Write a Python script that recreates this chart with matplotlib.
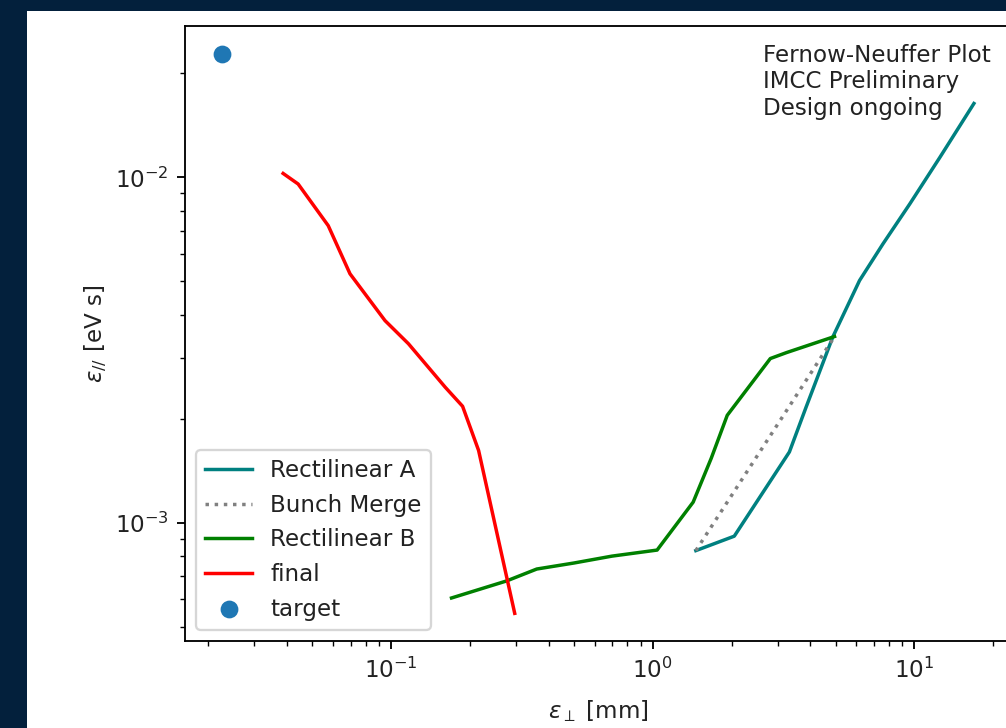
import numpy as np
import matplotlib
matplotlib.use("Agg")
import matplotlib.pyplot as plt
from matplotlib.patches import Rectangle

# emittances: transverse [mm], longitudinal [eV s]
rect_a_x = [1.461, 2.049, 3.328, 3.857, 4.877, 6.17, 7.58, 9.6, 12.5, 16.88]
rect_a_y = [0.000831, 0.000915, 0.001604, 0.002165, 0.003454, 0.00503, 0.00642, 0.00838, 0.01142, 0.01637]

rect_b_x = [0.1702, 0.2765, 0.3603, 0.4994, 0.6983, 1.039, 1.427, 1.673, 1.926, 2.814, 3.241, 4.951]
rect_b_y = [0.000606, 0.000679, 0.000735, 0.000765, 0.000801, 0.000834, 0.001148, 0.001538, 0.002048, 0.00299, 0.00311, 0.003463]

merge_x = [1.461, 4.951]
merge_y = [0.000831, 0.003463]

final_x = [0.03867, 0.04414, 0.05752, 0.06966, 0.0948, 0.1165, 0.161, 0.1876, 0.216, 0.2968]
final_y = [0.01027, 0.00957, 0.00725, 0.00526, 0.00385, 0.0033, 0.00247, 0.002175, 0.00162, 0.000547]

target_x = [0.02264]
target_y = [0.02273]

note = "Fernow-Neuffer Plot\nIMCC Preliminary\nDesign ongoing"

W, H, DPI = 1006, 728, 166
navy = "#03203c"

plt.rcParams["text.color"] = "#222222"
plt.rcParams["axes.labelcolor"] = "#222222"
plt.rcParams["xtick.labelcolor"] = "#222222"
plt.rcParams["ytick.labelcolor"] = "#222222"

fig = plt.figure(figsize=(W / DPI, H / DPI), dpi=DPI, facecolor=navy)
# white page inside the dark frame
fig.patches.append(Rectangle((27 / W, 0), 1 - 27 / W, 1 - 11 / H,
                             transform=fig.transFigure, facecolor="white",
                             edgecolor="none", zorder=-1))

left, right, top, bottom = 184.7, 1011.5, 26.3, 641.3
ax = fig.add_axes([left / W, 1 - bottom / H, (right - left) / W, (bottom - top) / H])

ax.plot(rect_a_x, rect_a_y, color="teal", label="Rectilinear A")
ax.plot(merge_x, merge_y, color="gray", linestyle=":", label="Bunch Merge")
ax.plot(rect_b_x, rect_b_y, color="green", label="Rectilinear B")
ax.plot(final_x, final_y, color="red", label="final")
ax.scatter(target_x, target_y, s=45, label="target")

ax.set_xscale("log")
ax.set_yscale("log")
ax.set_xlabel(r"$\varepsilon_{\perp}$ [mm]", labelpad=6.5)
ax.set_ylabel(r"$\varepsilon_{//}$ [eV s]", labelpad=2.5)

ax.text(0.700, 0.972, note, transform=ax.transAxes, va="top", ha="left")
ax.legend(loc="lower left")

fig.savefig("out.png", dpi=DPI, facecolor=fig.get_facecolor())
